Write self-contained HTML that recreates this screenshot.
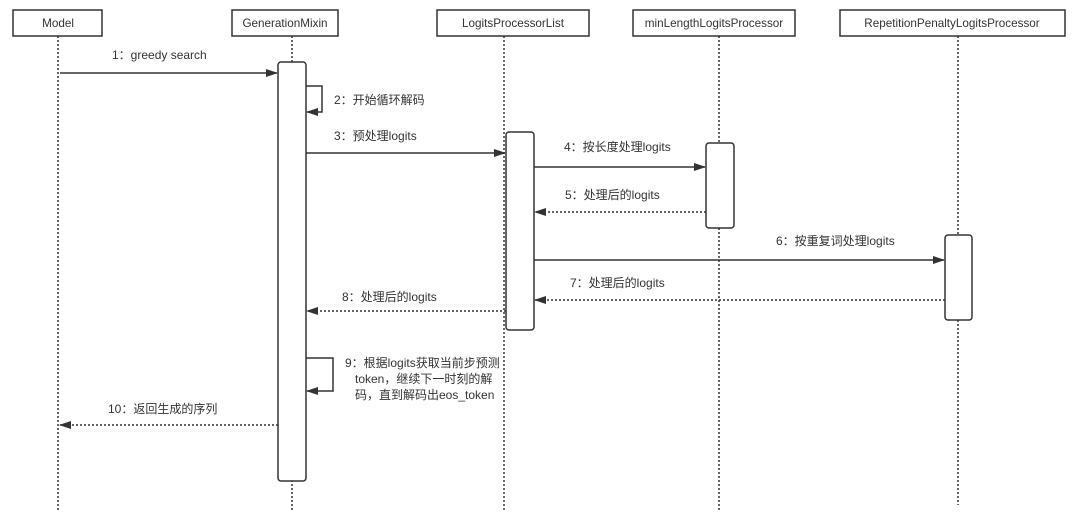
<!DOCTYPE html><html><head><meta charset="utf-8"><style>body{margin:0;background:#fff}</style></head><body>
<svg width="1080" height="523" xmlns="http://www.w3.org/2000/svg" font-family="Liberation Sans, Noto Sans CJK SC, sans-serif" font-size="12" fill="#333">
<defs><marker id="a" markerWidth="12" markerHeight="8" refX="11" refY="4" orient="auto" markerUnits="userSpaceOnUse"><path d="M0,0 L12,4 L0,8 z" fill="#333"/></marker></defs>
<g stroke="#333" stroke-width="1.5" stroke-dasharray="2,2" fill="none">
<line x1="58" y1="36" x2="58" y2="512"/><line x1="292" y1="36" x2="292" y2="512"/><line x1="504" y1="36" x2="504" y2="512"/><line x1="719" y1="36" x2="719" y2="512"/><line x1="958" y1="36" x2="958" y2="505"/>
</g>
<g fill="#fff" stroke="#333" stroke-width="1.5">
<rect x="13" y="10" width="89" height="26"/><rect x="232" y="10" width="106" height="26"/><rect x="437" y="10" width="152" height="26"/><rect x="633" y="10" width="162" height="26"/><rect x="840" y="10" width="225" height="26"/>
<rect x="278" y="62" width="28" height="419" rx="3"/><rect x="506" y="132" width="28" height="198" rx="3"/><rect x="706" y="143" width="28" height="85" rx="3"/><rect x="945" y="235" width="27" height="85" rx="3"/>
</g>
<g text-anchor="middle" font-size="11.7"><text x="58" y="27">Model</text><text x="285" y="27">GenerationMixin</text><text x="513" y="27">LogitsProcessorList</text><text x="714" y="27">minLengthLogitsProcessor</text><text x="952" y="27">RepetitionPenaltyLogitsProcessor</text></g>
<g stroke="#333" stroke-width="1.5" fill="none">
<line x1="60" y1="73" x2="277" y2="73" marker-end="url(#a)"/>
<polyline points="306,86 322,86 322,112 307,112" marker-end="url(#a)"/>
<line x1="306" y1="153" x2="505" y2="153" marker-end="url(#a)"/>
<line x1="534" y1="167" x2="705" y2="167" marker-end="url(#a)"/>
<line x1="706" y1="212" x2="535" y2="212" stroke-dasharray="2,2" marker-end="url(#a)"/>
<line x1="534" y1="260" x2="944" y2="260" marker-end="url(#a)"/>
<line x1="945" y1="300" x2="535" y2="300" stroke-dasharray="2,2" marker-end="url(#a)"/>
<line x1="506" y1="311" x2="307" y2="311" stroke-dasharray="2,2" marker-end="url(#a)"/>
<polyline points="306,358 333,358 333,391 307,391" marker-end="url(#a)"/>
<line x1="278" y1="425" x2="60" y2="425" stroke-dasharray="2,2" marker-end="url(#a)"/>
</g>
<text x="112" y="59">1：greedy search</text>
<text x="334" y="104">2：开始循环解码</text>
<text x="334" y="140">3：预处理logits</text>
<text x="564" y="151">4：按长度处理logits</text>
<text x="565" y="199">5：处理后的logits</text>
<text x="776" y="245">6：按重复词处理logits</text>
<text x="570" y="287">7：处理后的logits</text>
<text x="342" y="301">8：处理后的logits</text>
<text x="345" y="367">9：根据logits获取当前步预测</text>
<text x="355" y="383">token，继续下一时刻的解</text>
<text x="355" y="399">码，直到解码出eos_token</text>
<text x="108" y="413">10：返回生成的序列</text>
</svg></body></html>
